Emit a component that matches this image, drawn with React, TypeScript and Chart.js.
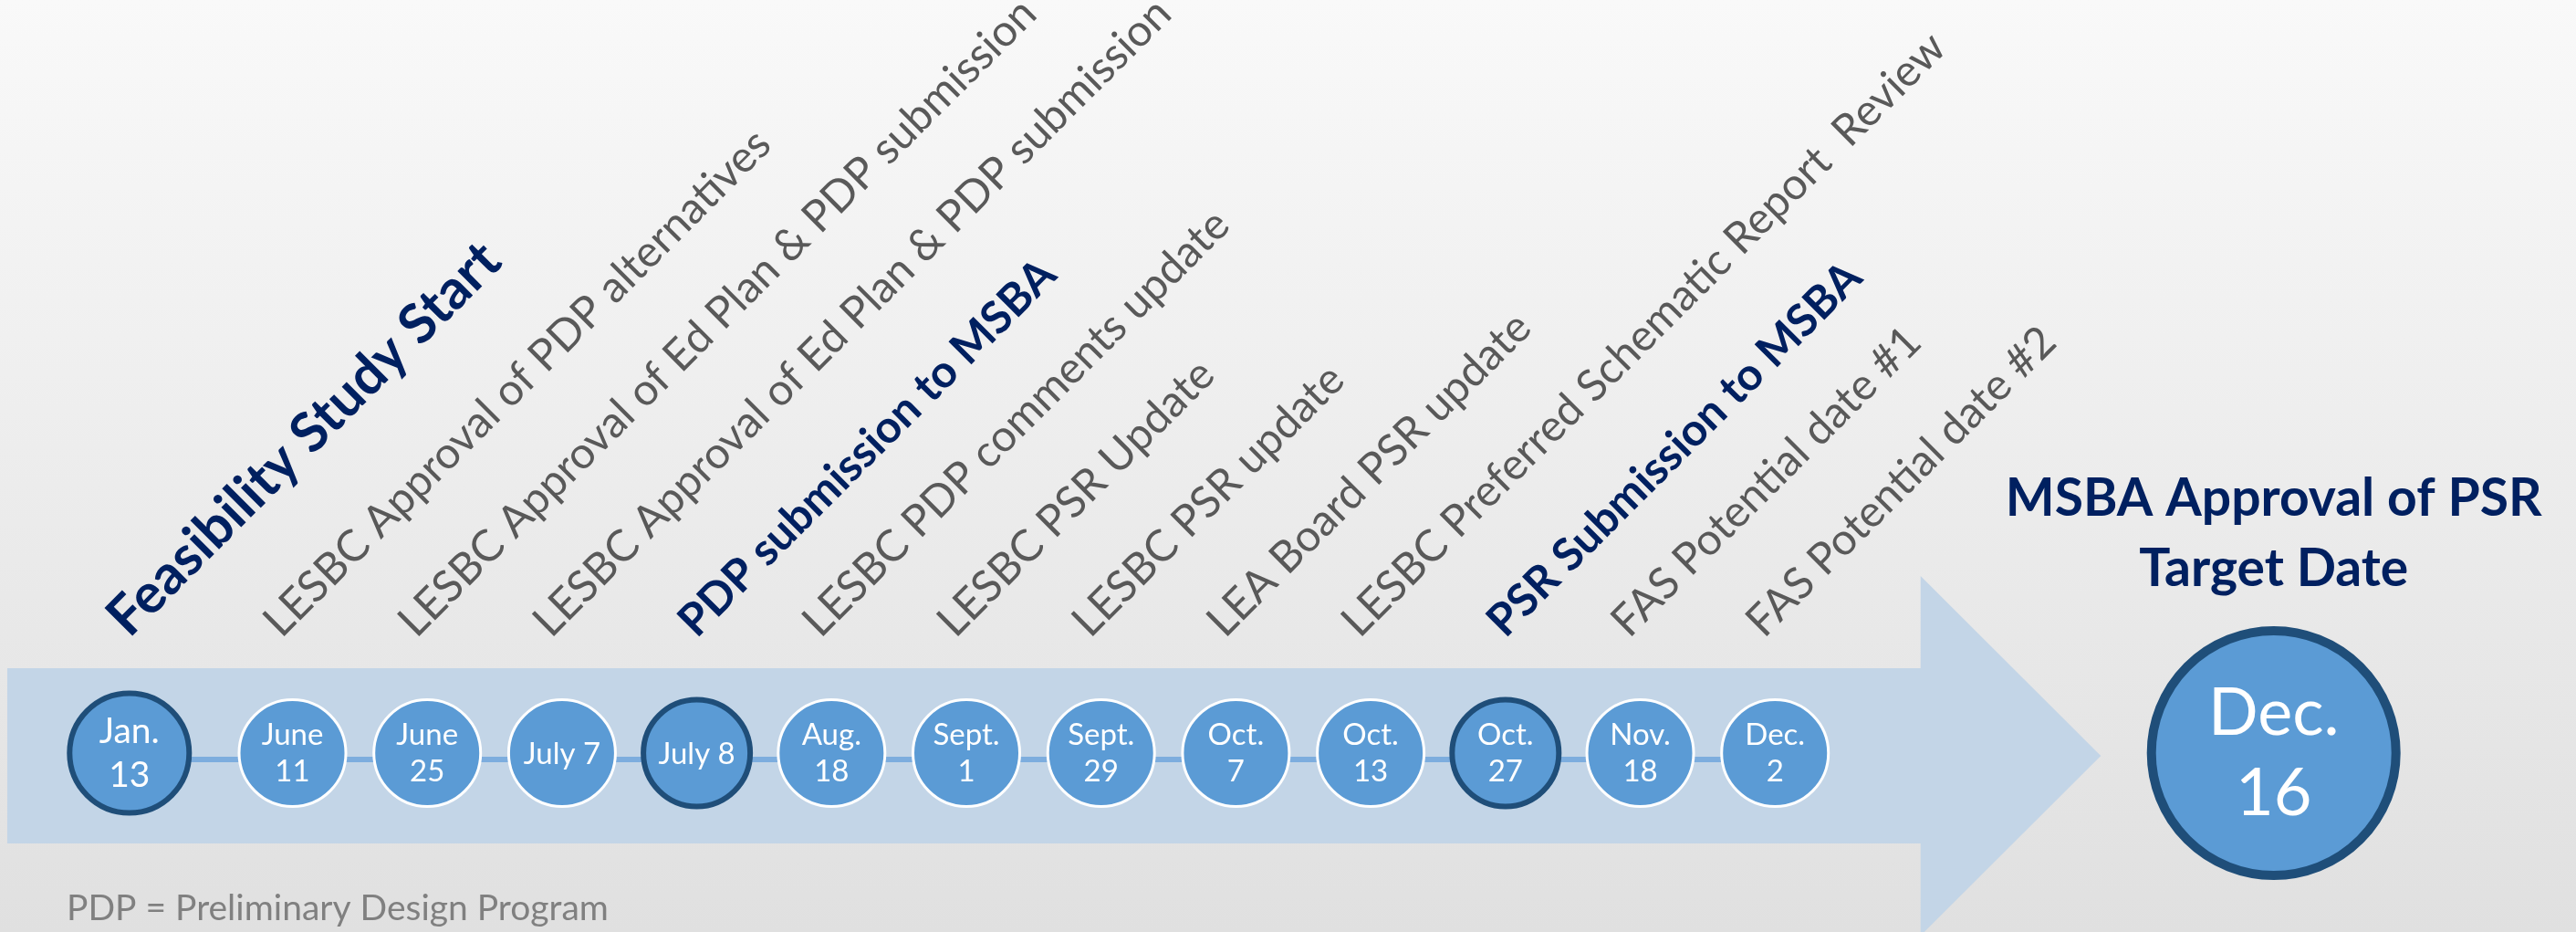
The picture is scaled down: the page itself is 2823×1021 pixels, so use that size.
import React, { useEffect, useRef } from "react";
import { Chart, registerables } from "chart.js";

Chart.register(...registerables);

// ---------- data ----------
const dateLabels: string[] = [
  "Jan.\n13", "June\n11", "June\n25", "July 7", "July 8", "Aug.\n18", "Sept.\n1",
  "Sept.\n29", "Oct.\n7", "Oct.\n13", "Oct.\n27", "Nov.\n18", "Dec.\n2",
];
const slotPositions: number[] = [-0.21, 1, 2, 3, 4, 5, 6, 7, 8, 9, 10, 11, 12];
const milestoneLabels: string[] = [
  "Feasibility Study Start",
  "LESBC Approval of PDP alternatives",
  "LESBC Approval of Ed Plan & PDP submission",
  "LESBC Approval of Ed Plan & PDP submission",
  "PDP submission to MSBA",
  "LESBC PDP comments update",
  "LESBC PSR Update",
  "LESBC PSR update",
  "LEA Board PSR update",
  "LESBC Preferred Schematic Report  Review",
  "PSR Submission to MSBA",
  "FAS Potential date #1",
  "FAS Potential date #2",
];
const keyMilestone: boolean[] = [true, false, false, false, true, false, false, false, false, false, true, false, false];
const targetDateLabel = "Dec.\n16";
const targetPosition = 15.7;
const targetTitle: string[] = ["MSBA Approval of PSR", "Target Date"];
const footnote = "PDP = Preliminary Design Program";

// ---------- layout / style ----------
const W = 2823;
const H = 1021;
const FONT = "Lato, 'Open Sans', sans-serif";
const NAVY = "#002060";
const GRAY = "#595959";
const CIRCLE_FILL = "#5b9bd5";
const DARK_RING = "#1f4e79";
const ARROW_COLOR = "#c3d5e7";
const LINE_COLOR = "#7dadde";

// arrow outline in axis units
const ARROW: [number, number][] = [
  [-1.116, 93], [13.08, 93], [13.08, 194], [14.417, -3],
  [13.08, -200], [13.08, -99], [-1.116, -99],
];

const decorPlugin = {
  id: "decor",
  beforeDraw(chart: any) {
    const { ctx, width, height } = chart;
    ctx.save();
    const g = ctx.createLinearGradient(0, 0, 0, height);
    g.addColorStop(0, "#f9f9f9");
    g.addColorStop(1, "#e0e0e0");
    ctx.fillStyle = g;
    ctx.fillRect(0, 0, width, height);
    ctx.restore();
  },
  beforeDatasetsDraw(chart: any) {
    const { ctx } = chart;
    const xs = chart.scales.x;
    const ys = chart.scales.y;
    ctx.save();
    ctx.beginPath();
    ARROW.forEach(([a, b], i) => {
      const px = xs.getPixelForValue(a);
      const py = ys.getPixelForValue(b);
      if (i === 0) ctx.moveTo(px, py);
      else ctx.lineTo(px, py);
    });
    ctx.closePath();
    ctx.fillStyle = ARROW_COLOR;
    ctx.fill();
    ctx.restore();
  },
  afterDatasetsDraw(chart: any) {
    const { ctx } = chart;
    const circles = chart.getDatasetMeta(0).data;
    const big = chart.getDatasetMeta(1).data[0];

    const drawInCircle = (text: string, x: number, y: number, size: number) => {
      ctx.font = `${size}px ${FONT}`;
      ctx.fillStyle = "#ffffff";
      ctx.textAlign = "center";
      ctx.textBaseline = "alphabetic";
      const lines = text.split("\n");
      if (lines.length === 1) {
        ctx.fillText(lines[0], x, y + 0.36 * size);
      } else {
        ctx.fillText(lines[0], x, y - 0.28 * size);
        ctx.fillText(lines[1], x, y + 0.95 * size);
      }
    };

    ctx.save();
    circles.forEach((pt: any, i: number) => {
      // rotated milestone label
      const bold = keyMilestone[i];
      const size = i === 0 ? 60 : bold ? 49 : 48;
      ctx.save();
      ctx.translate(pt.x + (bold ? 0 : -12), pt.y - 125);
      ctx.rotate(-Math.PI / 4);
      ctx.font = `${bold ? "bold " : ""}${size}px ${FONT}`;
      ctx.fillStyle = bold ? NAVY : GRAY;
      ctx.textAlign = "left";
      ctx.textBaseline = "alphabetic";
      ctx.fillText(milestoneLabels[i], 0, 0);
      ctx.restore();
      // date in circle
      drawInCircle(dateLabels[i], pt.x, pt.y, i === 0 ? 39 : 33);
    });

    // target circle + title
    drawInCircle(targetDateLabel, big.x, big.y, 72);
    ctx.font = `bold 57px ${FONT}`;
    ctx.fillStyle = NAVY;
    ctx.textAlign = "center";
    ctx.fillText(targetTitle[0], big.x, big.y - 260);
    ctx.fillText(targetTitle[1], big.x, big.y - 183);

    // footnote
    ctx.font = `39px ${FONT}`;
    ctx.fillStyle = "#808080";
    ctx.textAlign = "left";
    ctx.fillText(footnote, 73, 1008);
    ctx.restore();
  },
};

export default function App() {
  const ref = useRef<HTMLCanvasElement>(null);
  useEffect(() => {
    document.body.style.margin = "0";
    const chart = new Chart(ref.current as HTMLCanvasElement, {
      type: "scatter",
      data: {
        datasets: [
          {
            label: "milestones",
            data: slotPositions.map((x) => ({ x, y: 0 })),
            showLine: false,
            backgroundColor: CIRCLE_FILL,
            pointBackgroundColor: CIRCLE_FILL,
            pointRadius: keyMilestone.map((k, i) => (i === 0 ? 65.5 : 58.5)),
            pointBorderColor: keyMilestone.map((k) => (k ? DARK_RING : "#ffffff")),
            pointBorderWidth: keyMilestone.map((k) => (k ? 6 : 3)),
            order: 1,
            clip: false,
          } as any,
          {
            label: "target",
            data: [{ x: targetPosition, y: 0 }],
            showLine: false,
            pointBackgroundColor: CIRCLE_FILL,
            pointRadius: 134,
            pointBorderColor: DARK_RING,
            pointBorderWidth: 10,
            order: 0,
            clip: false,
          } as any,
          {
            label: "connector",
            data: slotPositions.map((x) => ({ x, y: -7 })),
            showLine: true,
            borderColor: LINE_COLOR,
            borderWidth: 6,
            pointRadius: 0,
            order: 5,
            clip: false,
          } as any,
        ],
      },
      options: {
        animation: false,
        responsive: false,
        devicePixelRatio: 1,
        events: [],
        layout: { padding: 0, autoPadding: false },
        plugins: {
          legend: { display: false },
          tooltip: { enabled: false },
          title: { display: false },
        },
        scales: {
          x: { type: "linear", display: false, min: -1.17, max: 17.943 },
          y: { type: "linear", display: false, min: -196, max: 825 },
        },
      } as any,
      plugins: [decorPlugin],
    });
    return () => chart.destroy();
  }, []);
  return (
    <div style={{ width: W, height: H }}>
      <canvas ref={ref} width={W} height={H} style={{ display: "block", width: W, height: H }} />
    </div>
  );
}
